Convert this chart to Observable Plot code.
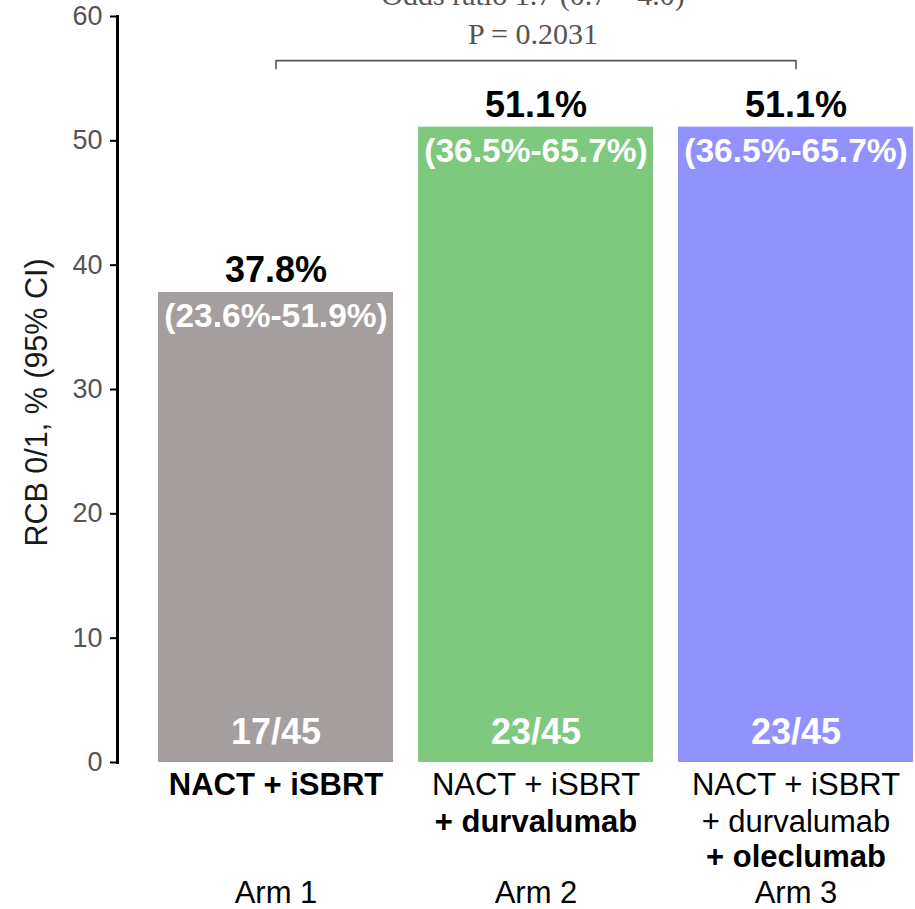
<!DOCTYPE html>
<html>
<head>
<meta charset="utf-8">
<script src="https://cdn.jsdelivr.net/npm/d3@7"></script>
<script src="https://cdn.jsdelivr.net/npm/@observablehq/plot@0.6"></script>
<style>
  html, body { margin: 0; padding: 0; background: #fff; }
  #chart svg { display: block; }
</style>
</head>
<body>
<div id="chart"></div>
<script>
// ---- data ----
const arms = ["Arm 1", "Arm 2", "Arm 3"];
const rates = [37.8, 51.1, 51.1];
const ciLow = [23.6, 36.5, 36.5];
const ciHigh = [51.9, 65.7, 65.7];
const responders = [17, 23, 23];
const totals = [45, 45, 45];
const barColors = ["#a49e9e", "#7fc97f", "#9292fe"];
const treatmentLines = [
  ["NACT + iSBRT"],
  ["NACT + iSBRT", "+ durvalumab"],
  ["NACT + iSBRT", "+ durvalumab", "+ oleclumab"]
];
const boldLine = [0, 1, 2]; // index of the bold (new) component per arm
const yTicks = [0, 10, 20, 30, 40, 50, 60];
const yLabel = "RCB 0/1, % (95% CI)";
const comparison = {from: "Arm 1", to: "Arm 3", level: 56.45, tickDown: 55.8};
const comparisonText = "Odds ratio 1.7 (0.7 – 4.0)\nP = 0.2031";
const comparisonTextY = 57.8;

const bars = arms.map((a, i) => ({
  arm: a, rate: rates[i], lo: ciLow[i], hi: ciHigh[i],
  n: responders[i], total: totals[i]
}));
const catRows = [];
treatmentLines.forEach((lines, i) => lines.forEach((t, j) => catRows.push({arm: arms[i], text: t, line: j, bold: j === boldLine[i]})));
const bracket = [
  {x: comparison.from, y: comparison.tickDown},
  {x: comparison.from, y: comparison.level},
  {x: comparison.to, y: comparison.level},
  {x: comparison.to, y: comparison.tickDown}
];

const font = "'Liberation Sans', Arial, Helvetica, sans-serif";
const lineDy = [23, 60, 95];

const catMarks = [];
[0, 1, 2].forEach(j => {
  [false, true].forEach(b => {
    catMarks.push(Plot.text(catRows.filter(d => d.line === j && d.bold === b), {
      x: "arm", y: () => 0, text: "text", dy: lineDy[j], lineAnchor: "middle",
      fontSize: 31, fontWeight: b ? "bold" : "normal", fill: "black"
    }));
  });
});

const plot = Plot.plot({
  width: 915,
  height: 909,
  marginTop: 16,
  marginBottom: 147,
  marginLeft: 117,
  marginRight: 2,
  style: {fontFamily: font, background: "#fff", overflow: "visible"},
  x: {domain: arms, range: [157, 913], paddingInner: 0.098, paddingOuter: 0, axis: null},
  y: {domain: [0, 60], axis: null},
  color: {domain: arms, range: barColors},
  marks: [
    Plot.barY(bars, {x: "arm", y: "rate", fill: "arm"}),
    Plot.frame({anchor: "left", stroke: "black", strokeWidth: 3}),
    Plot.axisY({ticks: yTicks, tickSize: 7, stroke: "black", strokeWidth: 2, fill: "#555", tickPadding: 8, fontSize: 27, label: null}),
    Plot.text([yLabel], {frameAnchor: "left", textAnchor: "middle", rotate: -90, dx: -80, dy: 13, fontSize: 30.5, fill: "#1a1a1a"}),
    // value labels
    Plot.text(bars, {x: "arm", y: "rate", text: d => d.rate.toFixed(1) + "%", dy: -22, lineAnchor: "middle", fontSize: 36, fontWeight: "bold", fill: "black"}),
    Plot.text(bars, {x: "arm", y: "rate", text: d => `(${d.lo.toFixed(1)}%-${d.hi.toFixed(1)}%)`, dy: 24, lineAnchor: "middle", fontSize: 33.5, fontWeight: "bold", fill: "white"}),
    Plot.text(bars, {x: "arm", y: () => 0, text: d => `${d.n}/${d.total}`, dy: -30, lineAnchor: "middle", fontSize: 36, fontWeight: "bold", fill: "white"}),
    // category labels
    ...catMarks,
    Plot.text(arms, {x: d => d, y: () => 0, text: d => d, dy: 131, lineAnchor: "middle", fontSize: 31, fill: "black"}),
    // comparison bracket
    Plot.line(bracket, {x: "x", y: "y", stroke: "#555", strokeWidth: 1.6}),
    Plot.text([comparisonText], {x: () => "Arm 2", y: () => comparisonTextY, dx: -3, lineAnchor: "bottom", lineHeight: 1.3, fontSize: 30, fontFamily: "'Liberation Serif', 'Times New Roman', serif", fill: "#555"})
  ]
});
document.getElementById("chart").appendChild(plot);
</script>
</body>
</html>
